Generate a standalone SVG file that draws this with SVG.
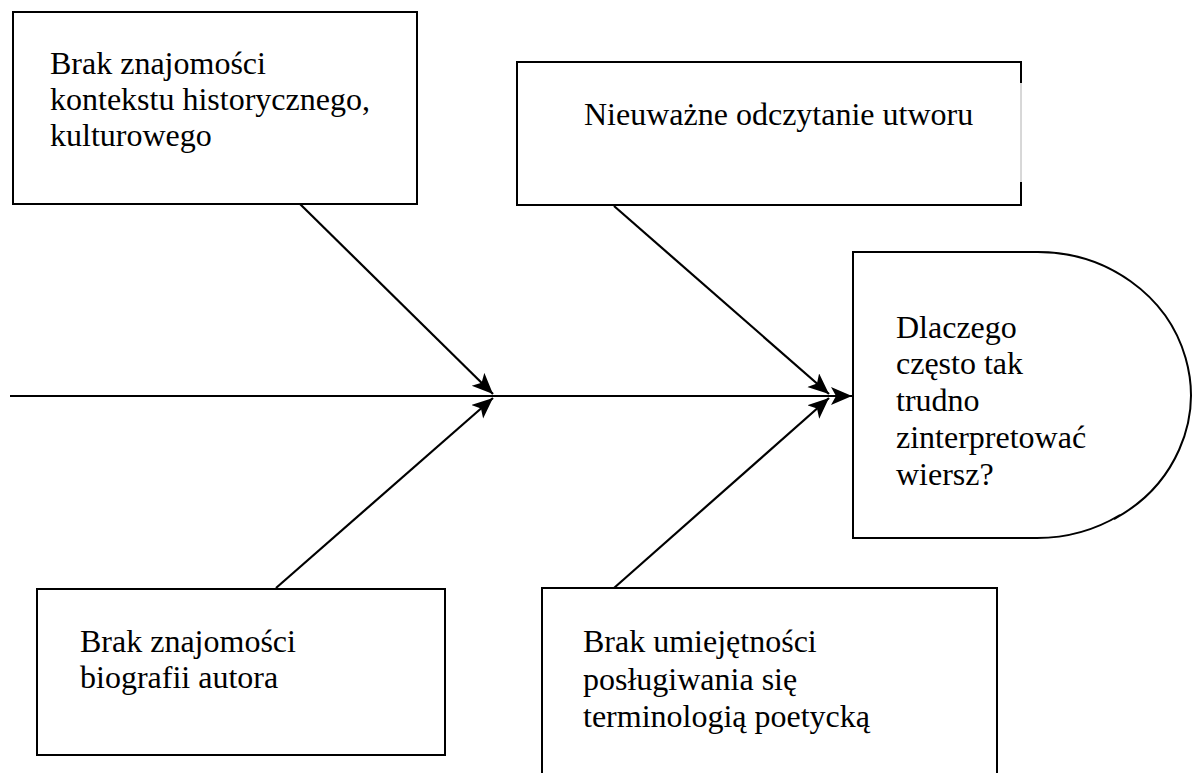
<svg xmlns="http://www.w3.org/2000/svg" width="1197" height="773" viewBox="0 0 1197 773">
  <defs>
    <style>
      .box { fill: #ffffff; stroke: #000000; stroke-width: 2; }
      .edge { fill: none; stroke: #000000; stroke-width: 2; }
      .lbl { font-family: "Liberation Serif", "Times New Roman", serif; font-size: 32px; fill: #000000; }
      .conn { fill: none; stroke: #000000; stroke-width: 2.2; marker-end: url(#arrow); }
    </style>
    <marker id="arrow" markerUnits="userSpaceOnUse" markerWidth="24" markerHeight="20" refX="21" refY="9" orient="auto">
      <path d="M0,0 L21,9 L0,18 L5,9 Z" fill="#000000"/>
    </marker>
  </defs>
  <rect width="1197" height="773" fill="#ffffff"/>

  <g id="connectors">
    <line class="conn" x1="10" y1="396" x2="852" y2="396"/>
    <line class="conn" x1="300" y1="204" x2="493" y2="394"/>
    <line class="conn" x1="614" y1="206" x2="829" y2="394"/>
    <line class="conn" x1="276" y1="588" x2="493" y2="398"/>
    <line class="conn" x1="614" y1="588" x2="829" y2="398"/>
  </g>

  <g id="cause-context">
    <rect class="box" x="13" y="12" width="404" height="192"/>
    <text class="lbl" x="50" y="74">Brak znajomości</text>
    <text class="lbl" x="50" y="110">kontekstu historycznego,</text>
    <text class="lbl" x="50" y="146">kulturowego</text>
  </g>

  <g id="cause-reading">
    <path class="edge" d="M1021,83 V62 H517 V205 H1021 V182"/>
    <line x1="1021" y1="83" x2="1021" y2="182" stroke="#b0b0b0" stroke-width="1"/>
    <text class="lbl" x="584" y="125">Nieuważne odczytanie utworu</text>
  </g>

  <g id="effect">
    <path d="M853,252 H1037 A153,143 0 0 1 1037,538 H853 Z" fill="#ffffff" stroke="none"/>
    <path class="edge" d="M1114,519 A153,143 0 0 0 1037,252 H853 V538 H1037 A153,143 0 0 0 1120,515"/>
    <text class="lbl" x="896" y="338">Dlaczego</text>
    <text class="lbl" x="896" y="374">często tak</text>
    <text class="lbl" x="896" y="411">trudno</text>
    <text class="lbl" x="896" y="448">zinterpretować</text>
    <text class="lbl" x="896" y="485">wiersz?</text>
  </g>

  <g id="cause-biography">
    <rect class="box" x="37" y="589" width="408" height="166"/>
    <text class="lbl" x="80" y="652">Brak znajomości</text>
    <text class="lbl" x="80" y="688">biografii autora</text>
  </g>

  <g id="cause-terminology">
    <path class="box" d="M542,780 V588 H997 V780"/>
    <text class="lbl" x="583" y="652">Brak umiejętności</text>
    <text class="lbl" x="583" y="690">posługiwania się</text>
    <text class="lbl" x="583" y="727">terminologią poetycką</text>
  </g>
</svg>
